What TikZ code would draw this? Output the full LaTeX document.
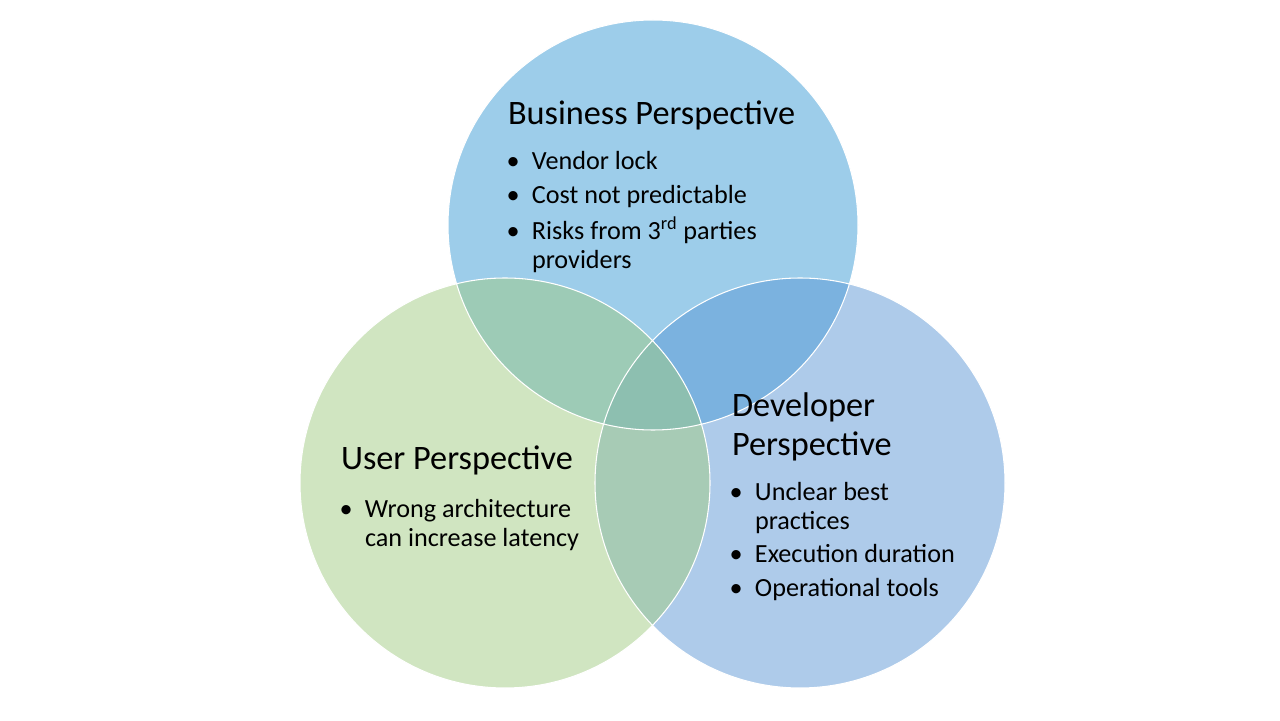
\documentclass[tikz,border=0pt]{standalone}
\usepackage{fontspec}
\setmainfont{Carlito}
\usetikzlibrary{positioning}
\definecolor{bizfill}{HTML}{9DCDEA}
\definecolor{usrfill}{HTML}{D0E5C1}
\definecolor{devfill}{HTML}{AECBEA}
\definecolor{bizusr}{HTML}{9DCBB6}
\definecolor{bizdev}{HTML}{7BB2DF}
\definecolor{usrdev}{HTML}{A7CBB5}
\definecolor{allthree}{HTML}{8DBFB0}
\newcommand{\bul}{\llap{\textbullet\hspace{7pt}}}

\begin{document}
\begin{tikzpicture}
	\tikzstyle{every node} = [inner sep=0pt, outer sep=0pt]
	\tikzstyle{head}   = [anchor=base west, align=left, font=\fontsize{19.5}{22.5}\selectfont]
	\tikzstyle{bullet} = [anchor=base west, align=left, font=\fontsize{14.9}{17}\selectfont]
	\def\circr{4.1}
	\useasboundingbox (0,0) rectangle (25.6,14.4);
	\coordinate (biz) at (13.06, 9.9);
	\coordinate (usr) at (10.1, 4.74);
	\coordinate (dev) at (16.0, 4.74);
	% circles
	\fill [bizfill] (biz) circle (\circr);
	\fill [usrfill] (usr) circle (\circr);
	\fill [devfill] (dev) circle (\circr);
	% overlaps
	\begin{scope}
		\clip (biz) circle (\circr);
		\fill [bizusr] (usr) circle (\circr);
		\fill [bizdev] (dev) circle (\circr);
	\end{scope}
	\begin{scope}
		\clip (usr) circle (\circr);
		\fill [usrdev] (dev) circle (\circr);
		\clip (biz) circle (\circr);
		\fill [allthree] (dev) circle (\circr);
	\end{scope}
	\draw [white, line width=0.6pt] (biz) circle (\circr) (usr) circle (\circr) (dev) circle (\circr);
	% business (multi-line nodes sit on their last line)
	\node[head]   (bizhead) at (10.16, 11.90) {Business Perspective};
	\node[bullet] (biz1)    at (10.64, 11.00) {\bul Vendor lock};
	\node[bullet] (biz2)    at (10.64, 10.32) {\bul Cost not predictable};
	\node[bullet] (biz3)    at (10.64, 9.02)  {\bul Risks from 3\textsuperscript{rd} parties\\providers};
	% user
	\node[head]   (usrhead) at (6.82, 5.00) {User Perspective};
	\node[bullet] (usr1)    at (7.30, 3.46) {\bul Wrong architecture\\can increase latency};
	% developer
	\node[head]   (devhead) at (14.64, 5.28) {Developer\\Perspective};
	\node[bullet] (dev1)    at (15.10, 3.80) {\bul Unclear best\\practices};
	\node[bullet] (dev2)    at (15.10, 3.14) {\bul Execution duration};
	\node[bullet] (dev3)    at (15.10, 2.46) {\bul Operational tools};
\end{tikzpicture}
\end{document}
